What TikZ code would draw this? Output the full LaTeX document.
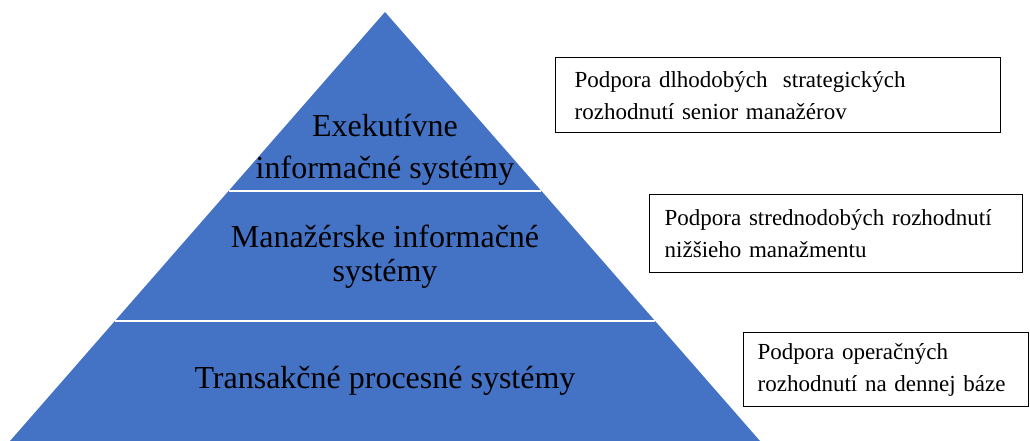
\documentclass[tikz,border=0pt]{standalone}
\usepackage{fontspec}
\setmainfont{Liberation Serif}
\usepackage{tikz}
\usetikzlibrary{calc}
\definecolor{pyrblue}{HTML}{4472C4}

\begin{document}
\begin{tikzpicture}[x=1pt,y=-1pt,
	layer/.style={align=center,font=\rmfamily\fontsize{32}{34}\selectfont},
	note/.style={draw,line width=1.4pt,anchor=north west,align=left,inner ysep=0pt,
		font=\rmfamily\fontsize{23}{32}\selectfont}]
\useasboundingbox (0,0) rectangle (1030,441);
\coordinate (apex) at (385,12);
\coordinate (bl) at (10,441);
\coordinate (br) at (760,441);
\fill[pyrblue] (apex) -- (bl) -- (br) -- cycle;
\draw[white,line width=2.5pt] ($(apex)!0.417!(bl)$) -- ($(apex)!0.417!(br)$);
\draw[white,line width=2.5pt] ($(apex)!0.72!(bl)$) -- ($(apex)!0.72!(br)$);
\node [layer] (eis) at (385,150) {Exekutívne\\[8pt]informačné systémy};
\node [layer] (mis) at (385,257) {Manažérske informačné\\systémy};
\node [layer] (tps) at (385,381) {Transakčné procesné systémy};
\node [note,inner xsep=19pt,text width=407pt,minimum height=75pt] (a) at (555,57)
	{Podpora dlhodobých\ \ strategických\\rozhodnutí senior manažérov};
\node [note,inner xsep=15pt,text width=343pt,minimum height=78pt] (b) at (649,194)
	{Podpora strednodobých rozhodnutí\\nižšieho manažmentu};
\node [note,inner xsep=14pt,text width=257pt,minimum height=74pt] (c) at (743,332)
	{Podpora operačných\\rozhodnutí na dennej báze};
\end{tikzpicture}
\end{document}
